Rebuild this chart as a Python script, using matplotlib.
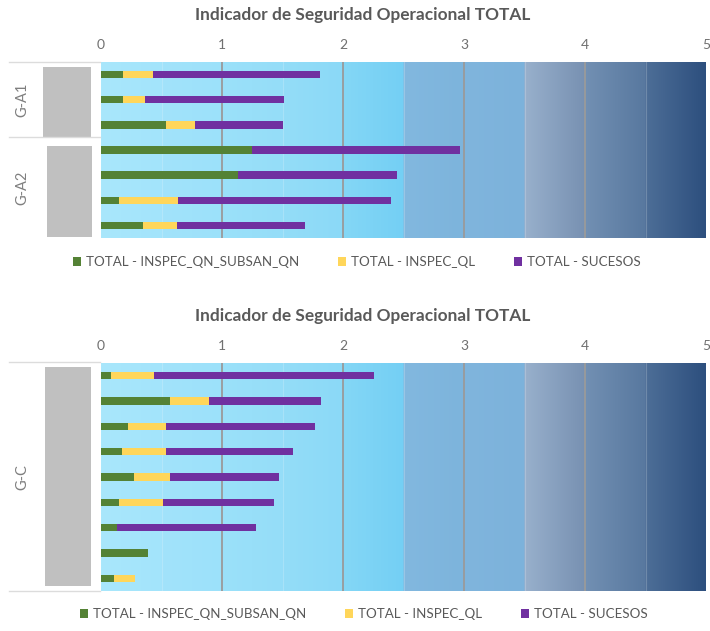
import numpy as np
import matplotlib
matplotlib.use("Agg")
import matplotlib.pyplot as plt
import matplotlib.transforms as mtransforms
from matplotlib.colors import to_rgb
from matplotlib.patches import Rectangle, Patch
from matplotlib.lines import Line2D

plt.rcParams['font.family'] = ['Lato', 'DejaVu Sans']

TITLE = "Indicador de Seguridad Operacional TOTAL"
SERIES = ["TOTAL - INSPEC_QN_SUBSAN_QN", "TOTAL - INSPEC_QL", "TOTAL - SUCESOS"]
COLORS = ["#548235", "#ffd65a", "#7030a0"]
TICKS = [0, 1, 2, 3, 4, 5]

# panel 1: groups G-A1 (3 rows) and G-A2 (4 rows)
top_groups = [("G-A1", 3), ("G-A2", 4)]
top_qn = [0.18, 0.18, 0.54, 1.25, 1.13, 0.15, 0.35]
top_ql = [0.25, 0.18, 0.24, 0.00, 0.00, 0.49, 0.28]
top_suc = [1.38, 1.15, 0.72, 1.72, 1.32, 1.76, 1.06]

# panel 2: group G-C (9 rows)
bot_groups = [("G-C", 9)]
bot_qn = [0.08, 0.57, 0.22, 0.17, 0.27, 0.15, 0.13, 0.39, 0.11]
bot_ql = [0.36, 0.32, 0.32, 0.37, 0.30, 0.36, 0.00, 0.00, 0.17]
bot_suc = [1.82, 0.93, 1.23, 1.05, 0.90, 0.92, 1.15, 0.00, 0.00]

# background colour bands, every 0.5 units (left colour, right colour)
BANDS = [
    ("#a9e7fc", "#a3e4fb"), ("#a2e3fb", "#9ce1fa"),
    ("#9be1fa", "#95ddf8"), ("#94ddf8", "#8bd9f7"),
    ("#84d7f6", "#74cff4"), ("#82b8df", "#7db4dc"),
    ("#80b5dd", "#7cb2db"), ("#98b0cc", "#7891b2"),
    ("#7290b3", "#58789f"), ("#4d6e97", "#2d4f7e"),
]

W, H = 710, 631
TXT = "#595959"


def fx(x):
    return x / W


def fy(y):
    return 1 - y / H


def band_image():
    cols = []
    for c0, c1 in BANDS:
        a, b = np.array(to_rgb(c0)), np.array(to_rgb(c1))
        t = np.linspace(0, 1, 60)[:, None]
        cols.append(a + (b - a) * t)
    return np.vstack(cols)[None, :, :]


def draw_panel(fig, rect, qn, ql, suc, groups, boxes, label_x, sep_y, legend_xy):
    ax = fig.add_axes(rect)
    n = len(qn)
    y = np.arange(n)
    qn, ql, suc = np.array(qn), np.array(ql), np.array(suc)

    ax.imshow(band_image(), extent=(0, 5, n - 0.5, -0.5), aspect='auto',
              zorder=0, interpolation='bilinear')
    for b in np.arange(0.5, 5, 1.0):
        ax.axvline(b, color='white', alpha=0.2, lw=0.8, zorder=1)
    for t in TICKS[1:-1]:
        ax.axvline(t, color='#9a9a9a', lw=1.3, zorder=1)

    h = 0.3
    ax.barh(y, qn, height=h, color=COLORS[0], zorder=2)
    ax.barh(y, ql, left=qn, height=h, color=COLORS[1], zorder=2)
    ax.barh(y, suc, left=qn + ql, height=h, color=COLORS[2], zorder=2)

    ax.set_xlim(0, 5)
    ax.set_ylim(n - 0.5, -0.5)
    ax.xaxis.tick_top()
    ax.set_xticks(TICKS)
    ax.set_xticklabels([str(t) for t in TICKS])
    ax.tick_params(axis='x', length=0, pad=8, labelsize=10, labelcolor='#707070')
    ax.set_yticks([])
    for s in ax.spines.values():
        s.set_visible(False)

    # group labels beside the hidden category names
    trans = mtransforms.blended_transform_factory(fig.transFigure, ax.transData)
    start = 0
    for name, cnt in groups:
        mid = start + (cnt - 1) / 2
        ax.text(fx(label_x), mid, name, transform=trans, rotation=90,
                ha='center', va='center', fontsize=10.5, color='#7f7f7f')
        start += cnt

    for x0, y0, x1, y1 in boxes:
        fig.add_artist(Rectangle((fx(x0), fy(y1)), fx(x1 - x0), (y1 - y0) / H,
                                 transform=fig.transFigure, color='#c0c0c0', lw=0))
    for yy in sep_y:
        fig.add_artist(Line2D([fx(9), fx(100)], [fy(yy), fy(yy)],
                              transform=fig.transFigure, color='#dcdcdc', lw=1))

    handles = [Patch(facecolor=c, edgecolor='none') for c in COLORS]
    fig.legend(handles, SERIES, loc='center',
               bbox_to_anchor=(fx(legend_xy[0]), fy(legend_xy[1])),
               ncol=3, frameon=False, fontsize=9.6, labelcolor=TXT,
               handlelength=0.6, handleheight=0.6, handletextpad=0.4,
               columnspacing=2.9)
    return ax


fig = plt.figure(figsize=(W / 100, H / 100), dpi=100)

ax1 = draw_panel(fig, [fx(101), fy(238), fx(605), (238 - 62) / H],
                 top_qn, top_ql, top_suc, top_groups,
                 boxes=[(43, 67, 91, 137), (47, 146, 92, 237)],
                 label_x=22, sep_y=[62, 137], legend_xy=(357, 262))
fig.text(fx(363), fy(15), TITLE, ha='center', va='center',
         fontsize=12.4, fontweight='bold', color=TXT)

ax2 = draw_panel(fig, [fx(101), fy(591), fx(605), (591 - 363) / H],
                 bot_qn, bot_ql, bot_suc, bot_groups,
                 boxes=[(45, 367, 91, 586)],
                 label_x=22, sep_y=[362, 591], legend_xy=(364, 614))
fig.text(fx(363), fy(316), TITLE, ha='center', va='center',
         fontsize=12.4, fontweight='bold', color=TXT)

fig.savefig("out.png", dpi=100)
